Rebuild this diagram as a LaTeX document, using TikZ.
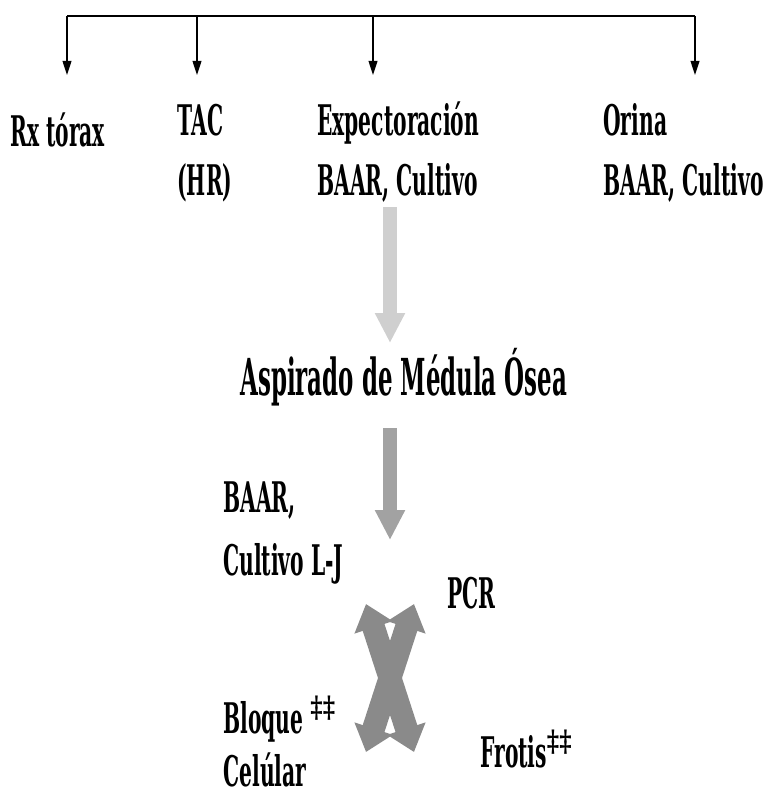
\documentclass[tikz,border=0pt]{standalone}
\usepackage{fontspec}
\setmainfont{DejaVu Serif}[FakeStretch=0.48]
\newfontfamily\titlefont{DejaVu Serif}[FakeStretch=0.45]
\newfontfamily\dagfont{DejaVu Serif}[FakeStretch=0.8]
\usetikzlibrary{arrows.meta,calc,positioning}
\definecolor{lightgrey}{HTML}{CFCFCF}
\definecolor{midgrey}{HTML}{A2A2A2}
\definecolor{darkgrey}{HTML}{8A8A8A}
\newcommand{\dags}{\textsuperscript{\dagfont\bfseries ‡‡}}
\tikzset{
    mylabel/.style={font=\fontsize{24}{28}\selectfont\bfseries,inner sep=0pt,text depth=0pt,anchor=base west},
    mytitle/.style={font=\titlefont\fontsize{29}{34}\selectfont\bfseries,inner sep=0pt,anchor=base west},
    mybar/.style={line width=1.6pt,draw=black},
    mytick/.style={line width=0.8pt,draw=black,-{Triangle[width=5pt,length=8pt]}},
    mybig/.style={line width=8pt,-{Triangle[width=16pt,length=17pt]}},
    mycross/.style={line width=13pt,draw=darkgrey,
        {Triangle[width=22pt,length=14pt]}-{Triangle[width=22pt,length=14pt]}}
}

\begin{document}
\begin{tikzpicture}[x=0.02cm,y=-0.02cm]
  \useasboundingbox (0,0) rectangle (772,798);
  % top bar
  \coordinate (B1) at (67,16);
  \coordinate (B2) at (197,16);
  \coordinate (B3) at (373,16);
  \coordinate (B4) at (695,16);
  \draw[mybar] (B1)--(B4);
  \foreach \P in {1,2,3,4}{
    \coordinate (T\P) at ($(B\P)+(0,59)$);
    \draw[mytick] (B\P)--(T\P);
  }
  % tests
  \node[mylabel] (rx) at (10,146) {Rx tórax};
  \node[mylabel] (tac) at (177,135) {TAC};
  \node[mylabel] (hr) at (177,195) {(HR)};
  \node[mylabel] (exp) at (317,135) {Expectoración};
  \node[mylabel] (expb) at (317,195) {BAAR, Cultivo};
  \node[mylabel] (ori) at (603,135) {Orina};
  \node[mylabel] (orib) at (603,195) {BAAR, Cultivo};
  % marrow
  \node[mytitle] (amo) at (240,395) {Aspirado de Médula Ósea};
  \coordinate (A1) at (390,207);
  \coordinate (A2) at (390,343);
  \draw[mybig,lightgrey] (A1)--(A2);
  \coordinate (C1) at (390,428);
  \coordinate (C2) at (390,540);
  \draw[mybig,midgrey] (C1)--(C2);
  \node[mylabel] (baar) at (223,512) {BAAR,};
  \node[mylabel] (clj) at (223,575) {Cultivo L-J};
  \node[mylabel] (pcr) at (447,608) {PCR};
  \node[mylabel] (blq) at (223,733) {Bloque \dags};
  \node[mylabel] (cel) at (223,786) {Celúlar};
  \node[mylabel] (fro) at (480,767) {Frotis\dags};
  % cross
  \coordinate (X1) at (366,604);
  \coordinate (X2) at (414,752);
  \coordinate (X3) at (414,604);
  \coordinate (X4) at (366,752);
  \draw[mycross] (X1)--(X2);
  \draw[mycross] (X3)--(X4);
\end{tikzpicture}
\end{document}
